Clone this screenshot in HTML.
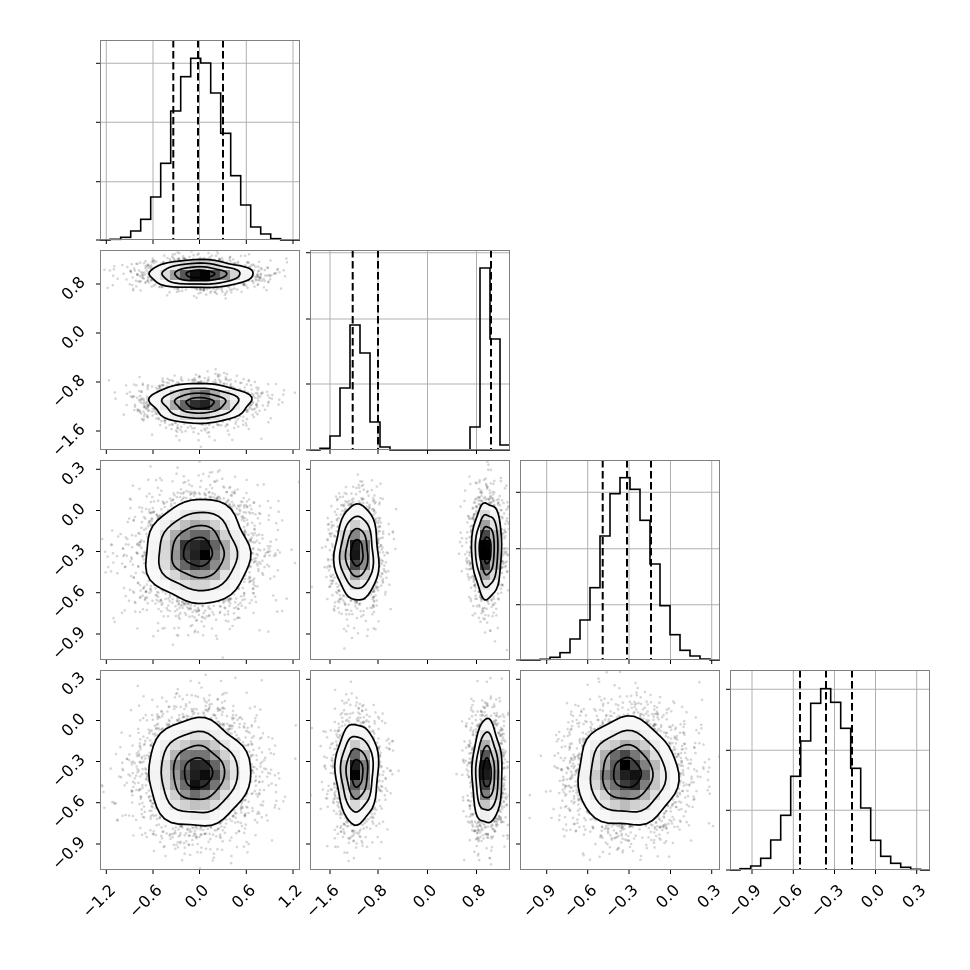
<!DOCTYPE html>
<html><head><meta charset="utf-8"><style>
html,body{margin:0;padding:0;background:#fff;width:970px;height:970px;overflow:hidden}
svg{display:block}
text{font-family:"DejaVu Sans","Liberation Sans",sans-serif;font-size:16px;fill:#000}
</style></head><body>
<svg id="s" width="970" height="970" viewBox="0 0 970 970" xmlns="http://www.w3.org/2000/svg">
<defs id="defs"></defs>
<g id="main"></g>
</svg>
<script>
(function(){
var NS='http://www.w3.org/2000/svg';
var svg=document.getElementById('main'), defs=document.getElementById('defs');
function el(t,a,p){var e=document.createElementNS(NS,t);for(var k in a)e.setAttribute(k,a[k]);(p||svg).appendChild(e);return e;}
var seed=12345;function rnd(){seed|=0;seed=seed+0x6D2B79F5|0;var t=Math.imul(seed^seed>>>15,1|seed);t=t+Math.imul(t^t>>>7,61|t)^t;return((t^t>>>14)>>>0)/4294967296;}
function gauss(){var u=rnd()||1e-9,v=rnd();return Math.sqrt(-2*Math.log(u))*Math.cos(2*Math.PI*v);}
var colX=[100,310,520,730], rowY=[40,250,460,670], W=200;
var xt=[[106.3,153,199.5,246.3,293],[330,378,427.5,476.5],[546.7,587.7,629,670.5,711.7],[752,793.3,834.5,875.5,916.7]];
var xl=[["−1.2","−0.6","0.0","0.6","1.2"],["−1.6","−0.8","0.0","0.8"],["−0.9","−0.6","−0.3","0.0","0.3"],["−0.9","−0.6","−0.3","0.0","0.3"]];
var yt=[null,[284,333,382,431],[469.3,510.5,551.5,592.7,634],[679.3,720.5,761.5,802.7,844]];
var yl=[null,["0.8","0.0","−0.8","−1.6"],["0.3","0.0","−0.3","−0.6","−0.9"],["0.3","0.0","−0.3","−0.6","−0.9"]];
var hyt=[[63.3,122.3,181.7],[252.7,319,384],[492.3,548.7,604.7],[689.3,750.3,810.3]];
var cid=0;
function blob(g,cx,cy,sx,sy,n,dark){
  for(var i=0;i<n;i++){var x=cx+sx*1.15*gauss(),y=cy+sy*1.15*gauss();
    el('circle',{cx:x.toFixed(1),cy:y.toFixed(1),r:1.3,fill:'#000','fill-opacity':0.16},g);}
  var a=rnd()*6,b=rnd()*6,c=rnd()*6;
  function w(t,r){return 1+0.035*Math.sin(3*t+a)+0.025*Math.sin(5*t+b)+0.02*Math.sin(7*t+c)*(r/2);}
  function poly(r){var pts=[];for(var k=0;k<48;k++){var t=k/48*2*Math.PI,m=r*w(t,r);pts.push((cx+sx*m*Math.cos(t)).toFixed(1)+','+(cy+sy*m*Math.sin(t)).toFixed(1));}return pts.join(' ');}
  var id='c'+(cid++);var cp=el('clipPath',{id:id},defs);el('polygon',{points:poly(2)},cp);
  var cg=el('g',{'clip-path':'url(#'+id+')'},g);
  el('polygon',{points:poly(2),fill:'#fff'},cg);
  var cs=10,x0=Math.floor((cx-sx*2.3)/cs)*cs,y0=Math.floor((cy-sy*2.3)/cs)*cs;
  for(var X=x0;X<cx+sx*2.3;X+=cs)for(var Y=y0;Y<cy+sy*2.3;Y+=cs){
    var dx=(X+cs/2-cx)/sx,dy=(Y+cs/2-cy)/sy,r2=dx*dx+dy*dy;
    var v=Math.exp(-r2/2)*(1+0.16*(rnd()-0.5));var q=(v-0.135)/0.865;if(q<0)q=0;if(q>1)q=1;
    var gv=Math.round(250*(1-Math.pow(q,dark)));
    el('rect',{x:X,y:Y,width:cs+0.4,height:cs+0.4,fill:'rgb('+gv+','+gv+','+gv+')'},cg);}
  [0.55,1,1.5,2].forEach(function(r){el('polygon',{points:poly(r),fill:'none',stroke:'#000','stroke-width':1.7,'stroke-linejoin':'round'},g);});
}
function hist(c,r,edges,tops,dash){
  var x=colX[c],y=rowY[r],g=el('g',{});
  xt[c].forEach(function(t){el('line',{x1:t,y1:y,x2:t,y2:y+W,stroke:'#b0b0b0','stroke-width':1},g);});
  hyt[r].forEach(function(t){el('line',{x1:x,y1:t,x2:x+W,y2:t,stroke:'#b0b0b0','stroke-width':1},g);});
  var d='M'+x+','+(y+W)+' L'+edges[0]+','+(y+W);
  for(var i=0;i<tops.length;i++){d+=' L'+edges[i]+','+tops[i]+' L'+edges[i+1]+','+tops[i];}
  d+=' L'+edges[tops.length]+','+(y+W)+' L'+(x+W)+','+(y+W);
  el('path',{d:d,fill:'none',stroke:'#000','stroke-width':1.6,'stroke-linejoin':'miter'},g);
  dash.forEach(function(dx){el('line',{x1:dx,y1:y,x2:dx,y2:y+W,stroke:'#000','stroke-width':2,'stroke-dasharray':'7.5,3.5'},g);});
}
function range(a,n,s){var o=[];for(var i=0;i<=n;i++)o.push(a+i*s);return o;}
hist(0,0,[110].concat(range(120.7,16,10)),[239.3,237.3,231,219.3,197,163.3,111,76.7,58.3,63,93,133.3,175.7,205,227,234,238.7],[173.3,198,223]);
(function(){var e=[320,330,340,350,360,370,380,390],t=[448.3,436,388,325,353,422,447];
 hist(1,1,e,t,[352.7,378,491]);
 var g=el('g',{});var d='M470,450 L470,427 L480,427 L480,268 L490,268 L490,339 L500,339 L500,445 L510,445';
 el('path',{d:d,fill:'none',stroke:'#000','stroke-width':1.6},g);})();
hist(2,2,range(540,17,10),[659.3,657.3,652.7,639,620,587.7,536,493.7,477.7,489.3,520.3,564,605.7,634.7,650.3,656,659],[602.7,627,651]);
hist(3,3,[740].concat(range(750.7,17,10)),[868.7,866,858.3,840,815.3,776.3,741,703.3,688.7,702.3,728.3,768.3,808,840.3,856.3,863.3,867.3,869.3],[800,826,852]);
function panel(c,r){var id='p'+c+'_'+r;var cp=el('clipPath',{id:id},defs);el('rect',{x:colX[c],y:rowY[r],width:W,height:W},cp);return el('g',{'clip-path':'url(#'+id+')'});}
var g;
g=panel(0,1);blob(g,200,274,26,7,1500,1.6);blob(g,200,403,25,10,1500,1.9);
g=panel(0,2);blob(g,198,552,26,26,3000,1.8);
g=panel(0,3);blob(g,198,773,25.5,27,3000,1.8);
g=panel(1,2);blob(g,357,553,11,24,1500,2.0);blob(g,487,550,7.5,24,1500,1.5);
g=panel(1,3);blob(g,357,773,10.7,25,1500,2.0);blob(g,487,773,7.5,26,1500,1.5);
g=panel(2,3);blob(g,627,773,25,27,3000,1.8);
for(var r=0;r<4;r++)for(var c=0;c<=r;c++){
  var x=colX[c],y=rowY[r];
  el('rect',{x:x+0.5,y:y+0.5,width:W-1,height:W-1,fill:'none',stroke:'#808080','stroke-width':1});
  xt[c].forEach(function(t){el('line',{x1:t,y1:y+W,x2:t,y2:y+W+4,stroke:'#000','stroke-width':1});});
  var ys=(c===r)?hyt[r].concat([y+W]):yt[r];
  ys.forEach(function(t){el('line',{x1:x-4,y1:t,x2:x,y2:t,stroke:'#000','stroke-width':1});});
}
for(var c=0;c<4;c++)xt[c].forEach(function(t,i){var tx=t+10,ty=891;
  var e=el('text',{x:tx,y:ty,'text-anchor':'end',transform:'rotate(-45 '+tx+' '+ty+')'});e.textContent=xl[c][i];});
for(var r=1;r<4;r++)yt[r].forEach(function(t,i){var tx=86,ty=t-1;
  var e=el('text',{x:tx,y:ty,'text-anchor':'end',transform:'rotate(-45 '+tx+' '+ty+')'});e.textContent=yl[r][i];});
})();
</script>
</body></html>
